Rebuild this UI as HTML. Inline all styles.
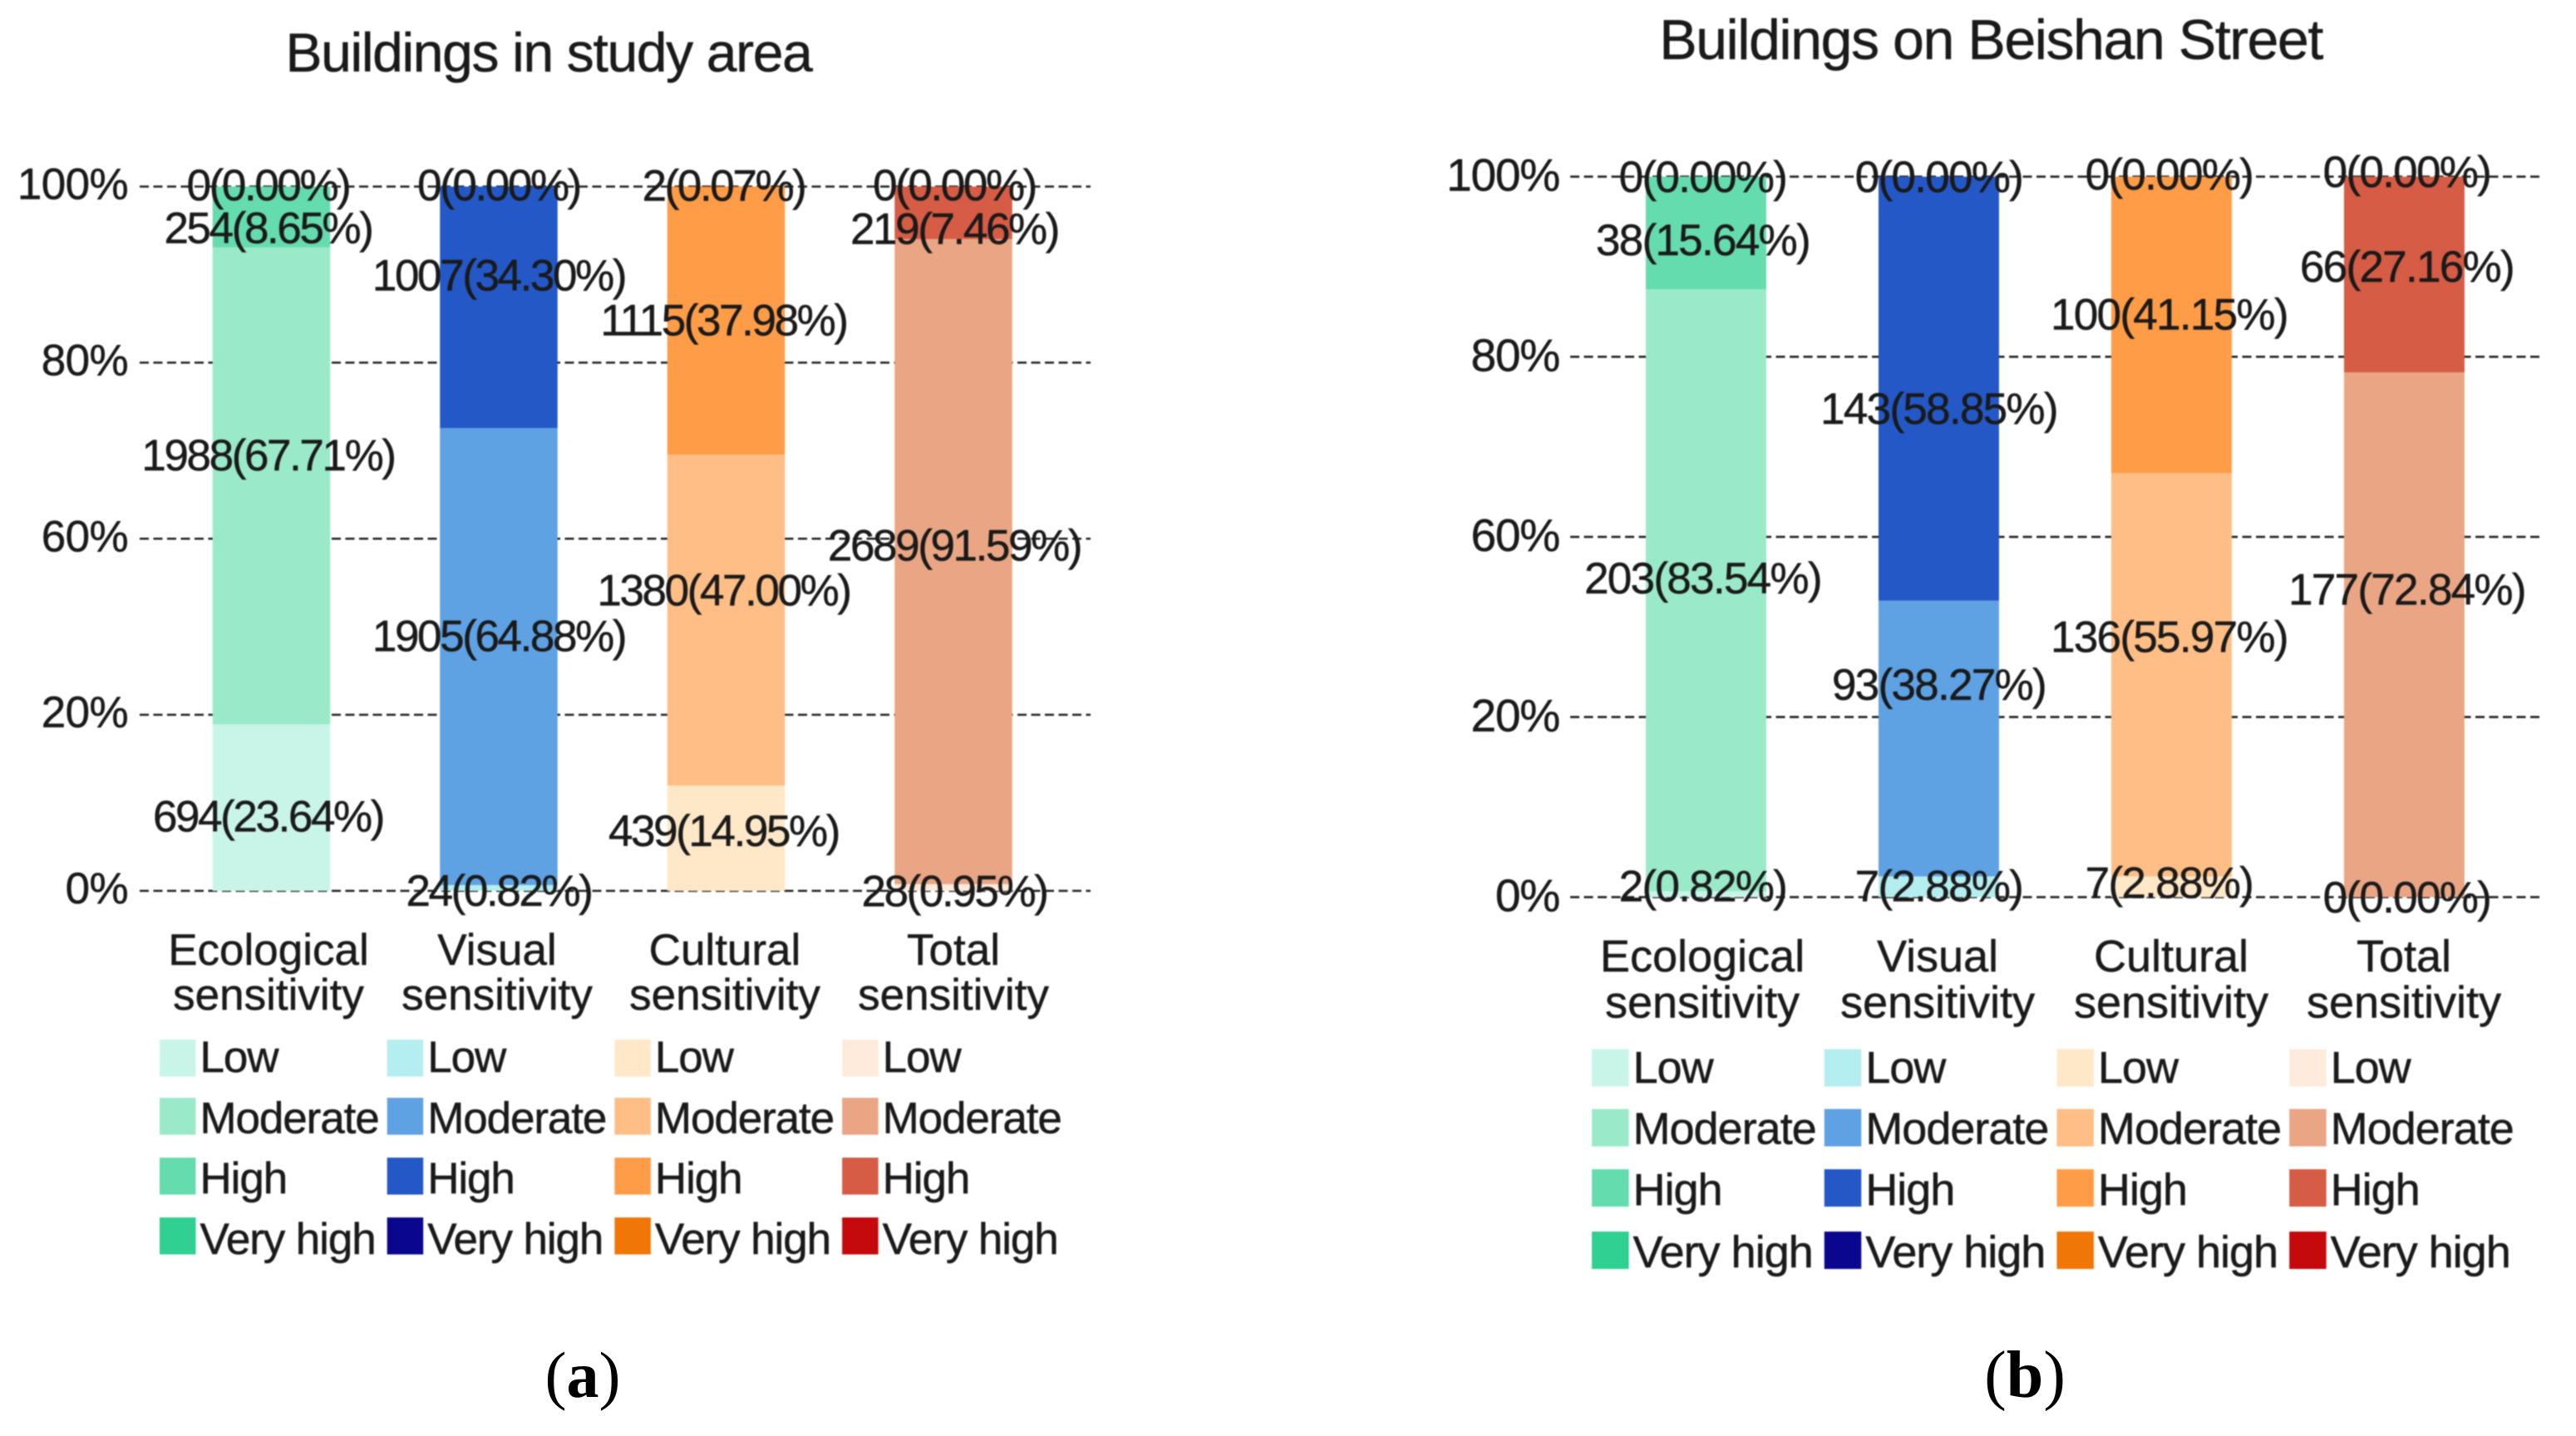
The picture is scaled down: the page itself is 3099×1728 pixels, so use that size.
<!DOCTYPE html>
<html lang="en">
<head>
<meta charset="utf-8">
<title>Building sensitivity charts</title>
<style>
html,body{margin:0;padding:0;background:#fff;width:3099px;height:1728px;overflow:hidden}
svg{display:block}
text{font-family:"Liberation Sans",Arial,sans-serif;fill:#1a1a1a}
.soft{filter:blur(0.7px)}
.soft text{stroke:#1a1a1a;stroke-width:0.5px}
.cap{font-family:"Liberation Serif","Times New Roman",serif;fill:#000}
</style>
</head>
<body>
<svg id="figure" xmlns="http://www.w3.org/2000/svg" width="3099" height="1728" viewBox="0 0 3099 1728">
  <rect x="0" y="0" width="3099" height="1728" fill="#ffffff"/>
  <g id="panel-a" class="soft">
    <text x="660" y="86" text-anchor="middle" font-size="66" letter-spacing="-1.35">Buildings in study area</text>
  </g>
  <g id="panel-b" class="soft">
    <text x="2395" y="71" text-anchor="middle" font-size="68" letter-spacing="-1.4">Buildings on Beishan Street</text>
  </g>
  <text class="cap" x="701" y="1681" text-anchor="middle" font-size="78">(<tspan font-weight="bold">a</tspan>)</text>
  <text class="cap" x="2436" y="1681" text-anchor="middle" font-size="80">(<tspan font-weight="bold">b</tspan>)</text>
</svg>
<script>
// ---- shared categories and axis labels ----
const categories = ['Ecological', 'Visual', 'Cultural', 'Total'];
const categorySuffix = 'sensitivity';
const levels = ['Low', 'Moderate', 'High', 'Very high'];
const tickValues = [0, 25, 50, 75, 100];
const tickLabels = ['0%', '20%', '60%', '80%', '100%'];

// ---- panel (a): buildings in study area ----
const studyLowCounts = [694, 24, 439, 28];
const studyModerateCounts = [1988, 1905, 1380, 2689];
const studyHighCounts = [254, 1007, 1115, 219];
const studyVeryHighCounts = [0, 0, 2, 0];
const studyLowPct = [23.64, 0.82, 14.95, 0.95];
const studyModeratePct = [67.71, 64.88, 47.00, 91.59];
const studyHighPct = [8.65, 34.30, 37.98, 7.46];
const studyVeryHighPct = [0.00, 0.00, 0.07, 0.00];

// ---- panel (b): buildings on Beishan Street ----
const streetLowCounts = [2, 7, 7, 0];
const streetModerateCounts = [203, 93, 136, 177];
const streetHighCounts = [38, 143, 100, 66];
const streetVeryHighCounts = [0, 0, 0, 0];
const streetLowPct = [0.82, 2.88, 2.88, 0.00];
const streetModeratePct = [83.54, 38.27, 55.97, 72.84];
const streetHighPct = [15.64, 58.85, 41.15, 27.16];
const streetVeryHighPct = [0.00, 0.00, 0.00, 0.00];

// ---- styling ----
const palette = [
  ['#c9f5e8', '#9aeac9', '#65dcae', '#2fd092'],
  ['#b5eef0', '#5ea2e4', '#2358c6', '#0a078e'],
  ['#ffe8c8', '#ffbe85', '#ff9c48', '#f07608'],
  ['#feebdb', '#eaa684', '#d65c45', '#c40a0c']
];

const SVG_NS = 'http://www.w3.org/2000/svg';

function make(parent, tag, props, content) {
  const el = document.createElementNS(SVG_NS, tag);
  Object.keys(props).forEach(function (k) { el.setAttribute(k, props[k]); });
  if (content !== undefined) el.textContent = content;
  parent.appendChild(el);
  return el;
}

function drawPanel(layout, counts, pcts) {
  const root = document.getElementById(layout.id);
  const y = function (v) { return layout.y0 - (v / 100) * (layout.y0 - layout.y100); };
  const x = function (i) { return layout.x0 + i * layout.step; };

  // gridlines and tick labels
  tickValues.forEach(function (v, t) {
    const line = make(root, 'line', {
      x1: layout.gridX1, x2: layout.gridX2, y1: y(v), y2: y(v),
      stroke: '#222222', 'stroke-width': 2.6, 'stroke-dasharray': '11 5.5'
    });
    
    
    const label = make(root, 'text', {
      x: layout.tickX, y: y(v) + layout.tickDy, 'text-anchor': 'end', 'font-size': layout.tickSize,
      'letter-spacing': layout.tickSpacing
    }, tickLabels[t]);
    
    
  });

  // stacked bars
  categories.forEach(function (cat, c) {
    let base = 0;
    levels.forEach(function (level, s) {
      const pct = pcts[s][c];
      const bar = make(root, 'rect', {
        x: x(c) - layout.barW / 2, y: y(base + pct), width: layout.barW,
        height: Math.max(0, y(base) - y(base + pct)), fill: palette[c][s]
      });
      
      
      base += pct;
    });
  });

  // printed values
  categories.forEach(function (cat, c) {
    let base = 0;
    levels.forEach(function (level, s) {
      const pct = pcts[s][c];
      const mid = base + pct / 2;
      const value = make(root, 'text', {
        x: x(c) + layout.labelDx[c], y: y(mid) + layout.labelNudge[c][s] + 16.5,
        'text-anchor': 'middle', 'font-size': layout.labelSize, 'letter-spacing': layout.labelSpacing
      }, counts[s][c] + '(' + pct.toFixed(2) + '%)');
      
      
      base += pct;
    });
  });

  // category labels
  categories.forEach(function (cat, c) {
    const first = make(root, 'text', {
      x: layout.catX[c], y: layout.catY[0], 'text-anchor': 'middle', 'font-size': layout.catSize
    }, cat);
    
    
    const second = make(root, 'text', {
      x: layout.catX[c], y: layout.catY[1], 'text-anchor': 'middle', 'font-size': layout.catSize
    }, categorySuffix);
    
    
  });

  // legend
  categories.forEach(function (cat, c) {
    levels.forEach(function (level, s) {
      const lx = layout.legendX0 + c * layout.legendStep;
      const swatch = make(root, 'rect', {
        x: lx, y: layout.legendRowY[s], width: layout.swatchW, height: layout.swatchH, fill: palette[c][s]
      });
      
      
      const entry = make(root, 'text', {
        x: lx + layout.legendTextDx, y: layout.legendBaseY[s], 'font-size': layout.legendSize,
        'letter-spacing': layout.legendSpacing
      }, level);
      
      
    });
  });
}

drawPanel({
  id: 'panel-a', y0: 1072, y100: 224.5, x0: 326.5, step: 273.5, barW: 141.5,
  gridX1: 168, gridX2: 1312, tickX: 154, tickSize: 53, tickSpacing: -0.6, tickDy: 15,
  labelSize: 53, labelSpacing: -2.4, labelDx: [-4, 0, -3, 1],
  labelNudge: [[12, -35, 15, 0], [5, -23, -37, 0], [-7, -34, 1, 0], [6, -18, 21, 0]],
  catX: [323, 598, 872, 1147], catY: [1161, 1215], catSize: 53,
  legendX0: 192, legendStep: 273.7, swatchW: 43.5, swatchH: 44.5,
  legendRowY: [1251, 1321, 1393, 1465], legendBaseY: [1290, 1363.5, 1436, 1509],
  legendTextDx: 48.5, legendSize: 53, legendSpacing: -1.1
}, [studyLowCounts, studyModerateCounts, studyHighCounts, studyVeryHighCounts],
   [studyLowPct, studyModeratePct, studyHighPct, studyVeryHighPct]);

drawPanel({
  id: 'panel-b', y0: 1079.6, y100: 212.6, x0: 2052.4, step: 280, barW: 145,
  gridX1: 1889, gridX2: 3060, tickX: 1876, tickSize: 55, tickSpacing: -1.2, tickDy: 17,
  labelSize: 53, labelSpacing: -1.7, labelDx: [-4, 0, -3, 3],
  labelNudge: [[-8, -13, 10, 2], [1, -63, 26, 2], [-3, -44, -11, -1], [2, -53, -8, -4]],
  catX: [2048, 2331, 2612, 2892], catY: [1169, 1224.5], catSize: 54,
  legendX0: 1915, legendStep: 279.7, swatchW: 44.5, swatchH: 45,
  legendRowY: [1262.5, 1334.5, 1407, 1482], legendBaseY: [1303, 1376.5, 1450, 1525],
  legendTextDx: 49.5, legendSize: 54, legendSpacing: -1.0
}, [streetLowCounts, streetModerateCounts, streetHighCounts, streetVeryHighCounts],
   [streetLowPct, streetModeratePct, streetHighPct, streetVeryHighPct]);
</script>
</body>
</html>
